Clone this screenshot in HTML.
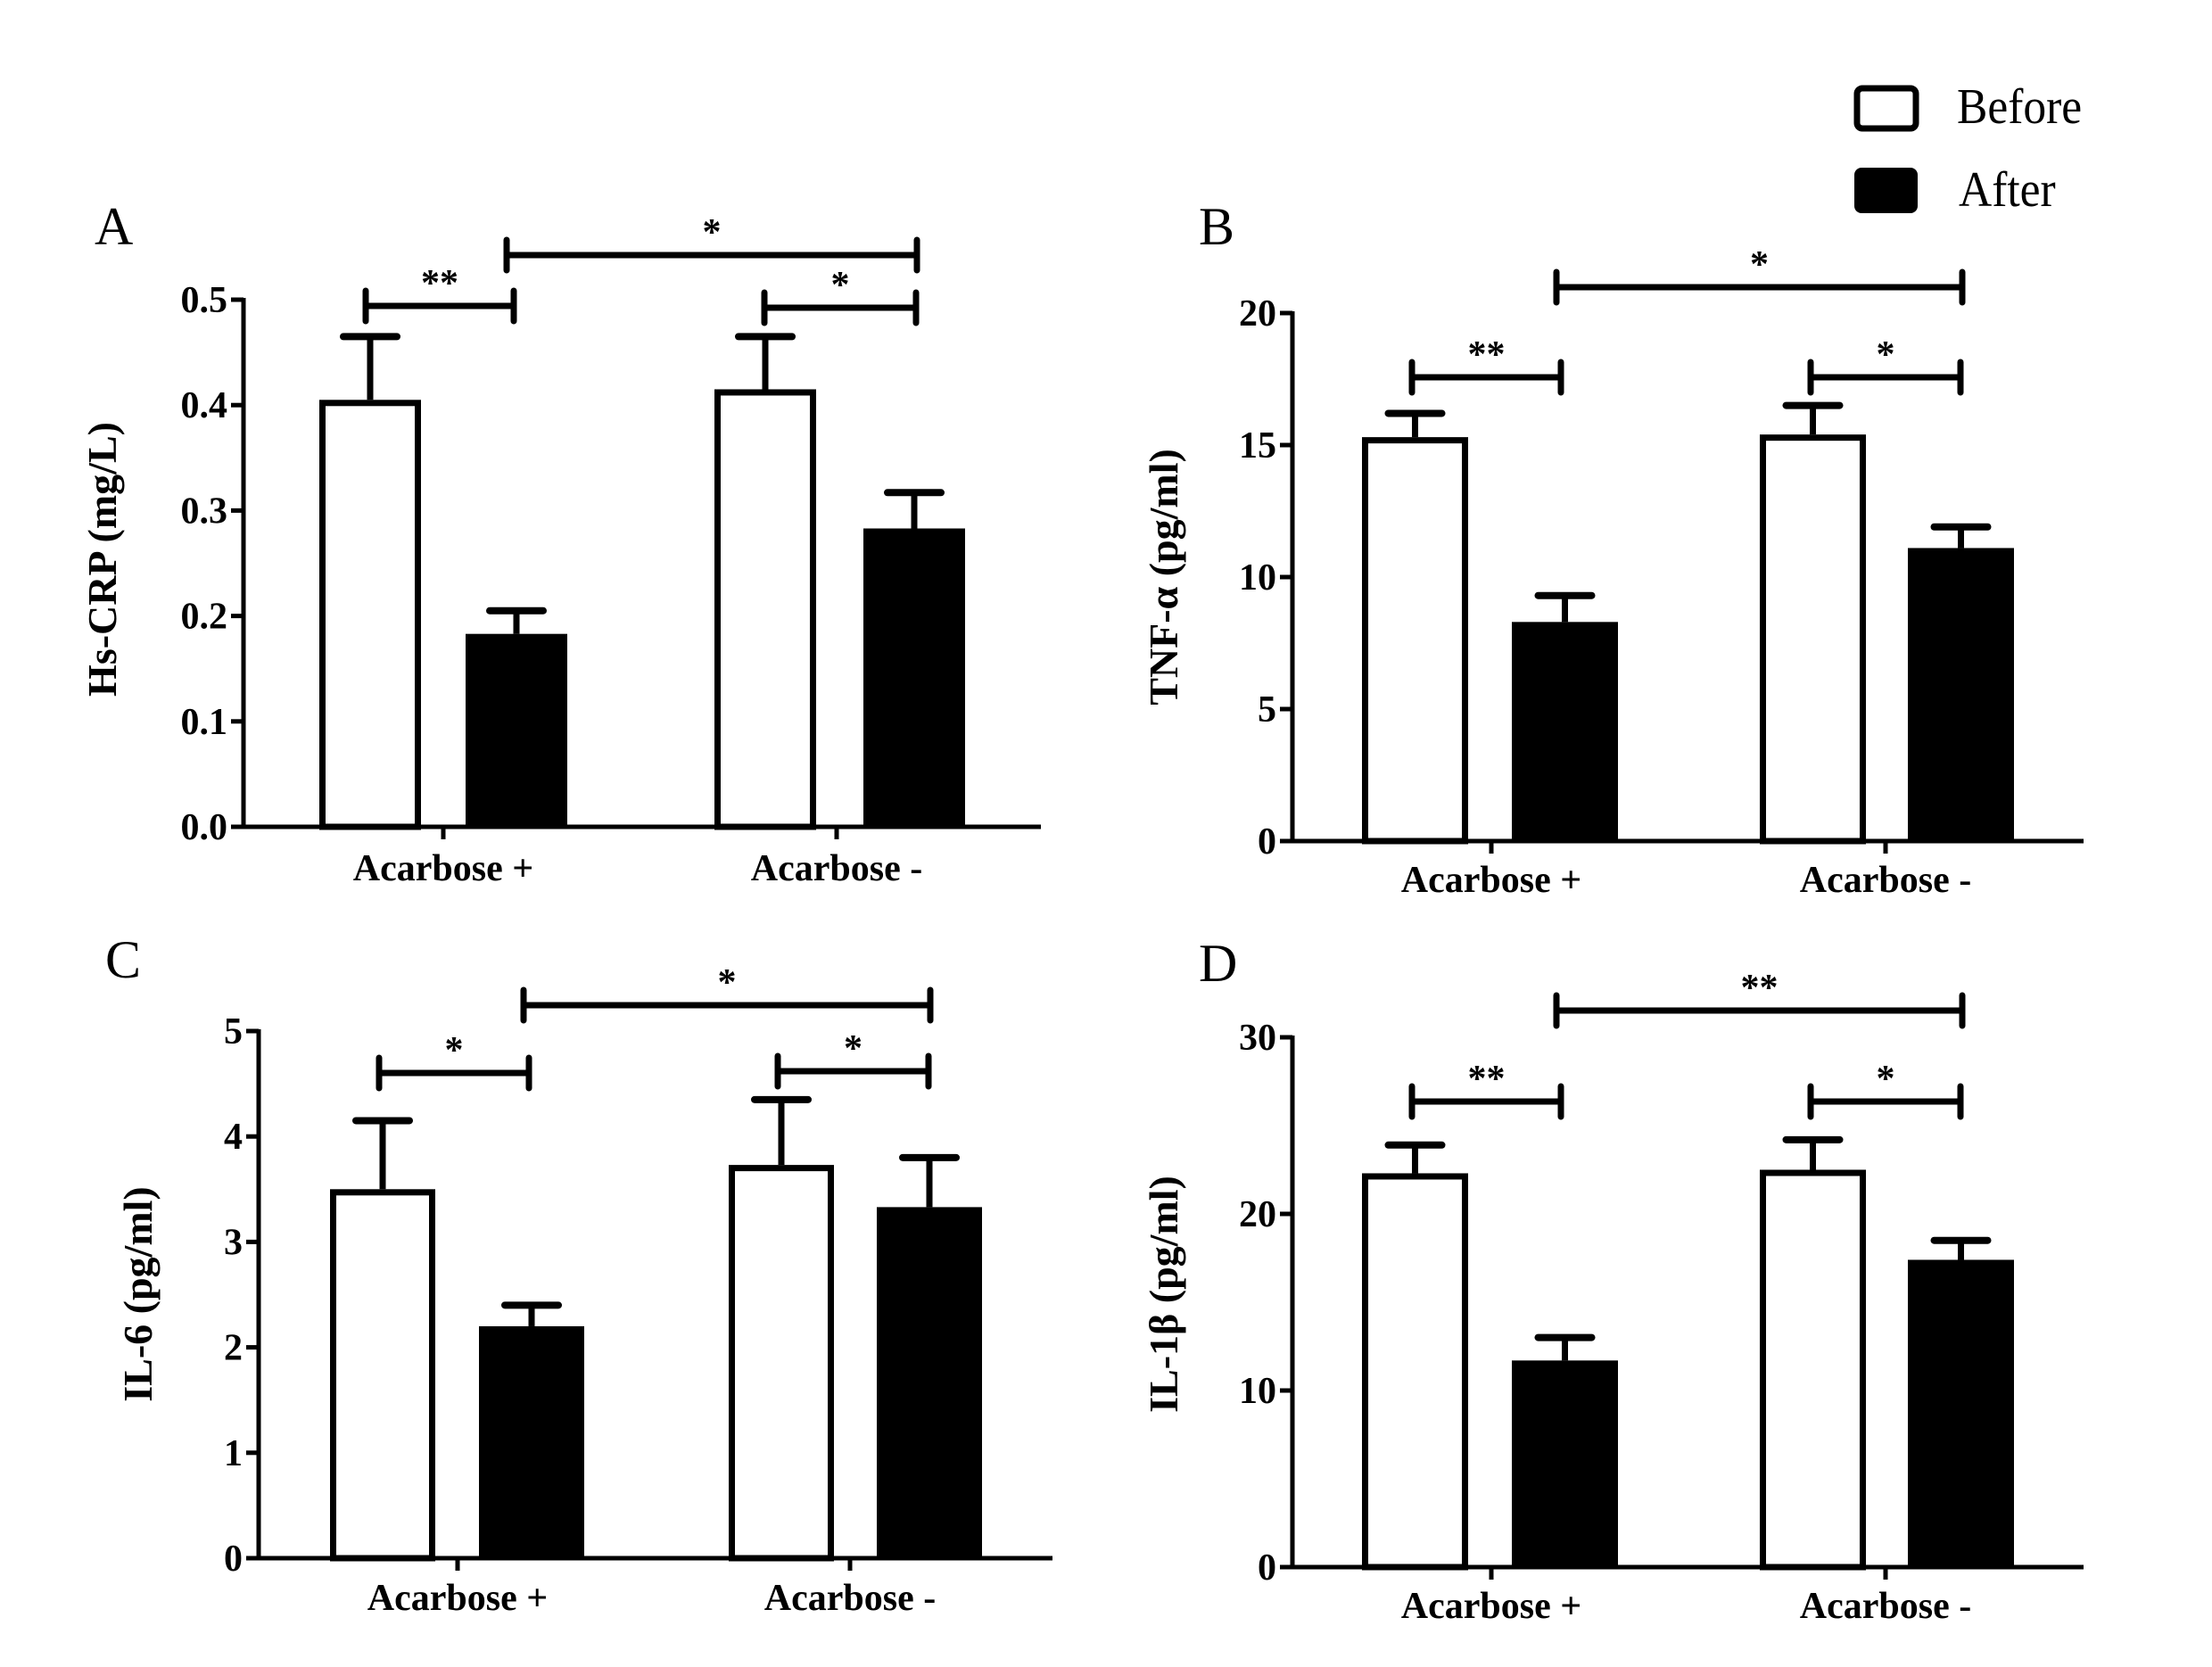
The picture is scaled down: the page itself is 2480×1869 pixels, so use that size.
<!DOCTYPE html>
<html><head><meta charset="utf-8"><style>
html,body{margin:0;padding:0;background:#fff;}
svg{display:block;}
text{font-family:"Liberation Serif",serif;fill:#000;}
</style></head><body>
<svg id="fig" width="2480" height="1869" viewBox="0 0 2480 1869" xmlns="http://www.w3.org/2000/svg">
  <g>
    <rect x="2082" y="99" width="66" height="45" rx="6" fill="#fff" stroke="#000" stroke-width="7"/>
    <text x="2194" y="138" font-size="56" transform="translate(2194 0) scale(0.92 1) translate(-2194 0)">Before</text>
    <rect x="2079" y="188" width="71" height="51" rx="8" fill="#000"/>
    <text x="2196" y="231" font-size="56" transform="translate(2196 0) scale(0.92 1) translate(-2196 0)">After</text>
  </g>
</svg>
<script>
// Data arrays (per panel)
const categories = ["Acarbose +", "Acarbose -"];
const seriesNames = ["Before", "After"];
const crpBefore = [0.405, 0.415];
const crpBeforeErr = [0.06, 0.05];
const crpAfter = [0.183, 0.283];
const crpAfterErr = [0.022, 0.034];
const crpTicks = ["0.0","0.1","0.2","0.3","0.4","0.5"];
const tnfBefore = [15.3, 15.4];
const tnfBeforeErr = [0.9, 1.1];
const tnfAfter = [8.3, 11.1];
const tnfAfterErr = [1.0, 0.8];
const tnfTicks = ["0","5","10","15","20"];
const il6Before = [3.5, 3.73];
const il6BeforeErr = [0.65, 0.62];
const il6After = [2.2, 3.33];
const il6AfterErr = [0.2, 0.47];
const il6Ticks = ["0","1","2","3","4","5"];
const il1Before = [22.3, 22.5];
const il1BeforeErr = [1.6, 1.7];
const il1After = [11.7, 17.4];
const il1AfterErr = [1.3, 1.1];
const il1Ticks = ["0","10","20","30"];
const sigLabelsA = ["**","*","*"];
const sigLabelsB = ["**","*","*"];
const sigLabelsC = ["*","*","*"];
const sigLabelsD = ["**","**","*"];

const NS = "http://www.w3.org/2000/svg";
const svg = document.getElementById("fig");
function mk(tag, attrs, parent){
  const e = document.createElementNS(NS, tag);
  for (const k in attrs) e.setAttribute(k, attrs[k]);
  (parent||svg).appendChild(e);
  return e;
}

function panel(p){
  const g = mk("g", {});
  
  
  const yMax = p.yMax;
  const y = v => p.y0 - (v / yMax) * (p.y0 - p.yTop);
  const ax = mk("path", {d:`M${p.ax} ${p.yTop-2} L${p.ax} ${p.y0} L${p.axEnd} ${p.y0}`, fill:"none", stroke:"#000", "stroke-width":5}, g);
  
  
  p.ticks.forEach((t,i)=>{
    const v = parseFloat(t);
    const yy = y(v);
    const tk = mk("line", {x1:p.ax-14, x2:p.ax, y1:yy, y2:yy, stroke:"#000", "stroke-width":5}, g);
    
    
    const tl = mk("text", {x:p.ax-18, y:yy+14, "font-size":42, "font-weight":"bold", "text-anchor":"end"}, g);
    tl.textContent = t;
    
    
  });
  const series = [[p.before, p.beforeErr], [p.after, p.afterErr]];
  categories.forEach((c,ci)=>{
    series.forEach((s,si)=>{
      const bx = p.barX[ci][si];
      const bw = p.barW;
      const v = s[0][ci], e = s[1][ci];
      const cx = bx + bw/2;
      const el = mk("line", {x1:cx, x2:cx, y1:y(v), y2:y(v+e), stroke:"#000", "stroke-width":7}, g);
      
      
      const cap = mk("line", {x1:cx-30, x2:cx+30, y1:y(v+e), y2:y(v+e), stroke:"#000", "stroke-width":8, "stroke-linecap":"round"}, g);
      
      
      const r = si===0
        ? mk("rect", {x:bx+3.5, y:y(v)+3.5, width:bw-7, height:p.y0-y(v)-3.5, fill:"#fff", stroke:"#000", "stroke-width":7}, g)
        : mk("rect", {x:bx, y:y(v), width:bw, height:p.y0-y(v), fill:"#000"}, g);
      
      
    });
    const cx = p.catTick[ci];
    const ct = mk("line", {x1:cx, x2:cx, y1:p.y0, y2:p.y0+14, stroke:"#000", "stroke-width":5}, g);
    
    
    const cl = mk("text", {x:cx, y:p.catY, "font-size":42, "font-weight":"bold", "text-anchor":"middle"}, g);
    cl.textContent = c;
    
    
  });
  p.brackets.forEach((b,bi)=>{
    const bg = mk("g", {}, g);
    
    
    mk("line", {x1:b[0], x2:b[1], y1:b[2], y2:b[2], stroke:"#000", "stroke-width":7}, bg);
    mk("line", {x1:b[0], x2:b[0], y1:b[2]-17, y2:b[2]+17, stroke:"#000", "stroke-width":7, "stroke-linecap":"round"}, bg);
    mk("line", {x1:b[1], x2:b[1], y1:b[2]-17, y2:b[2]+17, stroke:"#000", "stroke-width":7, "stroke-linecap":"round"}, bg);
    const st = mk("text", {x:(b[0]+b[1])/2, y:b[2]-12, "font-size":42, "font-weight":"bold", "text-anchor":"middle"}, bg);
    st.textContent = p.sig[bi];
    
    
  });
  const pl = mk("text", {x:p.letter[0], y:p.letter[1], "font-size":60}, g);
  pl.textContent = p.letterText;
  
  
  const yt = mk("text", {x:0, y:0, "font-size":46, "font-weight":"bold", "text-anchor":"middle",
    transform:`translate(${p.yTitle[0]} ${p.yTitle[1]}) rotate(-90)`}, g);
  yt.textContent = p.yTitleText;
  
  
}

const barsBD = [[1527,1695],[1973,2139]];
panel({name:"panel-a-hs-crp", ax:273, axEnd:1167, y0:927, yTop:336, yMax:0.5, ticks:crpTicks,
  before:crpBefore, beforeErr:crpBeforeErr, after:crpAfter, afterErr:crpAfterErr,
  barX:[[358,522],[801,968]], barW:114, catTick:[497,938], catY:987,
  brackets:[[410,576,343],[568,1028,286],[857,1027,345]], sig:sigLabelsA,
  letter:[106,274], letterText:"A", yTitle:[130,627], yTitleText:"Hs-CRP (mg/L)"});
panel({name:"panel-b-tnf-alpha", ax:1449, axEnd:2336, y0:943, yTop:351, yMax:20, ticks:tnfTicks,
  before:tnfBefore, beforeErr:tnfBeforeErr, after:tnfAfter, afterErr:tnfAfterErr,
  barX:barsBD, barW:119, catTick:[1672,2114], catY:1000,
  brackets:[[1583,1750,423],[1745,2200,322],[2030,2198,423]], sig:sigLabelsB,
  letter:[1344,274], letterText:"B", yTitle:[1320,647], yTitleText:"TNF-α (pg/ml)"});
panel({name:"panel-c-il-6", ax:290, axEnd:1180, y0:1747, yTop:1156, yMax:5, ticks:il6Ticks,
  before:il6Before, beforeErr:il6BeforeErr, after:il6After, afterErr:il6AfterErr,
  barX:[[370,537],[817,983]], barW:118, catTick:[513,953], catY:1805,
  brackets:[[425,593,1203],[587,1043,1127],[872,1041,1201]], sig:sigLabelsC,
  letter:[118,1096], letterText:"C", yTitle:[170,1451], yTitleText:"IL-6 (pg/ml)"});
panel({name:"panel-d-il-1beta", ax:1449, axEnd:2336, y0:1757, yTop:1163, yMax:30, ticks:il1Ticks,
  before:il1Before, beforeErr:il1BeforeErr, after:il1After, afterErr:il1AfterErr,
  barX:barsBD, barW:119, catTick:[1672,2114], catY:1814,
  brackets:[[1583,1750,1235],[1745,2200,1133],[2030,2198,1235]], sig:sigLabelsD,
  letter:[1344,1100], letterText:"D", yTitle:[1320,1451], yTitleText:"IL-1β (pg/ml)"});
</script>
</body></html>
